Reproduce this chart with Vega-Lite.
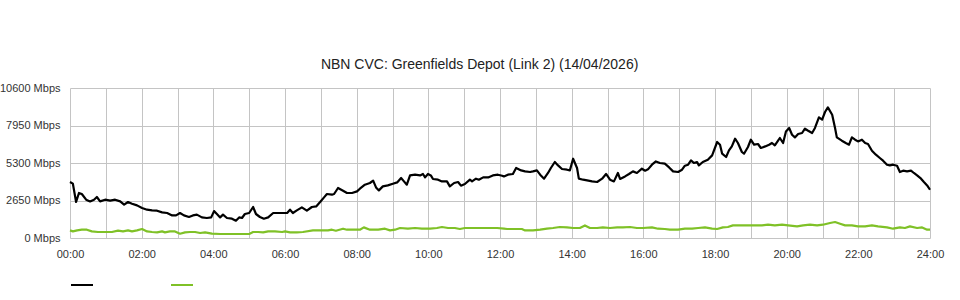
{
  "$schema": "https://vega.github.io/schema/vega-lite/v6.json",
  "width": 860,
  "height": 150,
  "autosize": {"type": "none"},
  "padding": {"left": 70, "top": 88, "right": 30, "bottom": 62},
  "title": {"text": "NBN CVC: Greenfields Depot (Link 2) (14/04/2026)", "fontSize": 14, "fontWeight": "normal", "font": "Liberation Sans", "color": "#222222", "anchor": "middle", "frame": "bounds", "offset": 10, "dx": 8},
  "config": {
    "view": {"stroke": null},
    "font": "Liberation Sans",
    "axis": {"labelFont": "Liberation Sans", "labelFontSize": 11, "labelColor": "#333333", "domain": false, "ticks": false, "tickSize": 0, "gridColor": "#c4c4c4", "gridWidth": 1, "gridOpacity": 1, "title": null}
  },
  "data": {"values": [
    {"s":"Download","h":0.00,"v":3960},{"s":"Download","h":0.08,"v":3840},{"s":"Download","h":0.17,"v":2544},{"s":"Download","h":0.25,"v":3180},{"s":"Download","h":0.33,"v":3110},{"s":"Download","h":0.45,"v":2707},{"s":"Download","h":0.56,"v":2587},{"s":"Download","h":0.67,"v":2707},{"s":"Download","h":0.75,"v":2897},{"s":"Download","h":0.84,"v":2587},{"s":"Download","h":0.98,"v":2707},{"s":"Download","h":1.12,"v":2636},{"s":"Download","h":1.26,"v":2707},{"s":"Download","h":1.40,"v":2587},{"s":"Download","h":1.51,"v":2353},{"s":"Download","h":1.62,"v":2544},{"s":"Download","h":1.73,"v":2424},{"s":"Download","h":1.87,"v":2304},{"s":"Download","h":2.01,"v":2120},{"s":"Download","h":2.15,"v":2000},{"s":"Download","h":2.29,"v":1950},{"s":"Download","h":2.43,"v":1930},{"s":"Download","h":2.57,"v":1810},{"s":"Download","h":2.71,"v":1767},{"s":"Download","h":2.85,"v":1597},{"s":"Download","h":2.96,"v":1597},{"s":"Download","h":3.07,"v":1767},{"s":"Download","h":3.18,"v":1597},{"s":"Download","h":3.32,"v":1484},{"s":"Download","h":3.43,"v":1597},{"s":"Download","h":3.54,"v":1650},{"s":"Download","h":3.68,"v":1456},{"s":"Download","h":3.82,"v":1413},{"s":"Download","h":3.94,"v":1456},{"s":"Download","h":4.02,"v":1900},{"s":"Download","h":4.10,"v":1696},{"s":"Download","h":4.19,"v":1456},{"s":"Download","h":4.27,"v":1650},{"s":"Download","h":4.38,"v":1413},{"s":"Download","h":4.52,"v":1364},{"s":"Download","h":4.63,"v":1222},{"s":"Download","h":4.72,"v":1456},{"s":"Download","h":4.80,"v":1413},{"s":"Download","h":4.88,"v":1696},{"s":"Download","h":5.00,"v":1767},{"s":"Download","h":5.11,"v":2190},{"s":"Download","h":5.19,"v":1696},{"s":"Download","h":5.30,"v":1484},{"s":"Download","h":5.41,"v":1364},{"s":"Download","h":5.53,"v":1456},{"s":"Download","h":5.67,"v":1767},{"s":"Download","h":5.80,"v":1767},{"s":"Download","h":5.94,"v":1767},{"s":"Download","h":6.06,"v":1767},{"s":"Download","h":6.14,"v":2000},{"s":"Download","h":6.22,"v":1767},{"s":"Download","h":6.33,"v":1950},{"s":"Download","h":6.47,"v":2163},{"s":"Download","h":6.61,"v":1930},{"s":"Download","h":6.75,"v":2190},{"s":"Download","h":6.87,"v":2233},{"s":"Download","h":6.98,"v":2544},{"s":"Download","h":7.09,"v":2870},{"s":"Download","h":7.17,"v":3110},{"s":"Download","h":7.31,"v":3060},{"s":"Download","h":7.37,"v":3110},{"s":"Download","h":7.48,"v":3534},{"s":"Download","h":7.62,"v":3343},{"s":"Download","h":7.73,"v":3180},{"s":"Download","h":7.87,"v":3180},{"s":"Download","h":8.01,"v":3293},{"s":"Download","h":8.09,"v":3484},{"s":"Download","h":8.23,"v":3767},{"s":"Download","h":8.37,"v":3887},{"s":"Download","h":8.46,"v":4050},{"s":"Download","h":8.54,"v":3576},{"s":"Download","h":8.62,"v":3364},{"s":"Download","h":8.73,"v":3647},{"s":"Download","h":8.87,"v":3717},{"s":"Download","h":9.01,"v":3837},{"s":"Download","h":9.13,"v":3929},{"s":"Download","h":9.24,"v":4240},{"s":"Download","h":9.32,"v":4000},{"s":"Download","h":9.40,"v":3767},{"s":"Download","h":9.49,"v":4424},{"s":"Download","h":9.63,"v":4473},{"s":"Download","h":9.77,"v":4424},{"s":"Download","h":9.85,"v":4523},{"s":"Download","h":9.91,"v":4283},{"s":"Download","h":9.99,"v":4523},{"s":"Download","h":10.07,"v":4424},{"s":"Download","h":10.13,"v":4170},{"s":"Download","h":10.27,"v":4120},{"s":"Download","h":10.38,"v":4000},{"s":"Download","h":10.52,"v":4000},{"s":"Download","h":10.60,"v":3647},{"s":"Download","h":10.72,"v":3887},{"s":"Download","h":10.83,"v":3958},{"s":"Download","h":10.91,"v":3696},{"s":"Download","h":11.02,"v":3816},{"s":"Download","h":11.16,"v":4120},{"s":"Download","h":11.22,"v":4000},{"s":"Download","h":11.33,"v":4191},{"s":"Download","h":11.41,"v":4120},{"s":"Download","h":11.53,"v":4283},{"s":"Download","h":11.67,"v":4283},{"s":"Download","h":11.80,"v":4424},{"s":"Download","h":11.94,"v":4473},{"s":"Download","h":12.06,"v":4400},{"s":"Download","h":12.11,"v":4353},{"s":"Download","h":12.22,"v":4473},{"s":"Download","h":12.36,"v":4523},{"s":"Download","h":12.45,"v":4947},{"s":"Download","h":12.59,"v":4777},{"s":"Download","h":12.70,"v":4707},{"s":"Download","h":12.84,"v":4664},{"s":"Download","h":12.92,"v":4707},{"s":"Download","h":13.03,"v":4777},{"s":"Download","h":13.12,"v":4473},{"s":"Download","h":13.23,"v":4191},{"s":"Download","h":13.34,"v":4594},{"s":"Download","h":13.42,"v":4947},{"s":"Download","h":13.53,"v":5371},{"s":"Download","h":13.62,"v":5131},{"s":"Download","h":13.73,"v":4876},{"s":"Download","h":13.87,"v":4827},{"s":"Download","h":13.95,"v":4777},{"s":"Download","h":14.04,"v":5604},{"s":"Download","h":14.15,"v":4947},{"s":"Download","h":14.20,"v":4191},{"s":"Download","h":14.32,"v":4120},{"s":"Download","h":14.43,"v":4070},{"s":"Download","h":14.57,"v":4000},{"s":"Download","h":14.71,"v":3958},{"s":"Download","h":14.85,"v":4191},{"s":"Download","h":14.96,"v":4523},{"s":"Download","h":15.07,"v":4120},{"s":"Download","h":15.18,"v":4000},{"s":"Download","h":15.29,"v":4594},{"s":"Download","h":15.35,"v":4170},{"s":"Download","h":15.49,"v":4353},{"s":"Download","h":15.60,"v":4523},{"s":"Download","h":15.71,"v":4707},{"s":"Download","h":15.82,"v":4594},{"s":"Download","h":15.96,"v":4897},{"s":"Download","h":16.05,"v":4756},{"s":"Download","h":16.13,"v":4850},{"s":"Download","h":16.24,"v":5180},{"s":"Download","h":16.35,"v":5413},{"s":"Download","h":16.46,"v":5300},{"s":"Download","h":16.60,"v":5250},{"s":"Download","h":16.72,"v":4989},{"s":"Download","h":16.83,"v":4707},{"s":"Download","h":16.97,"v":4664},{"s":"Download","h":17.08,"v":4827},{"s":"Download","h":17.16,"v":5109},{"s":"Download","h":17.25,"v":5180},{"s":"Download","h":17.33,"v":5484},{"s":"Download","h":17.41,"v":5300},{"s":"Download","h":17.50,"v":5371},{"s":"Download","h":17.55,"v":5131},{"s":"Download","h":17.66,"v":5371},{"s":"Download","h":17.80,"v":5534},{"s":"Download","h":17.92,"v":5837},{"s":"Download","h":18.06,"v":6784},{"s":"Download","h":18.14,"v":6594},{"s":"Download","h":18.20,"v":5957},{"s":"Download","h":18.31,"v":5724},{"s":"Download","h":18.39,"v":6191},{"s":"Download","h":18.47,"v":6473},{"s":"Download","h":18.56,"v":7017},{"s":"Download","h":18.64,"v":6714},{"s":"Download","h":18.75,"v":6078},{"s":"Download","h":18.81,"v":5957},{"s":"Download","h":18.92,"v":6431},{"s":"Download","h":19.00,"v":6947},{"s":"Download","h":19.09,"v":6594},{"s":"Download","h":19.20,"v":6643},{"s":"Download","h":19.28,"v":6360},{"s":"Download","h":19.40,"v":6473},{"s":"Download","h":19.51,"v":6594},{"s":"Download","h":19.59,"v":6714},{"s":"Download","h":19.67,"v":6544},{"s":"Download","h":19.76,"v":6876},{"s":"Download","h":19.81,"v":7067},{"s":"Download","h":19.90,"v":6714},{"s":"Download","h":19.98,"v":7533},{"s":"Download","h":20.07,"v":7774},{"s":"Download","h":20.15,"v":7300},{"s":"Download","h":20.23,"v":7110},{"s":"Download","h":20.32,"v":7350},{"s":"Download","h":20.43,"v":7420},{"s":"Download","h":20.51,"v":7724},{"s":"Download","h":20.60,"v":7583},{"s":"Download","h":20.71,"v":7420},{"s":"Download","h":20.79,"v":7774},{"s":"Download","h":20.90,"v":8523},{"s":"Download","h":20.99,"v":8360},{"s":"Download","h":21.07,"v":8904},{"s":"Download","h":21.15,"v":9230},{"s":"Download","h":21.27,"v":8713},{"s":"Download","h":21.35,"v":7774},{"s":"Download","h":21.40,"v":7110},{"s":"Download","h":21.54,"v":6876},{"s":"Download","h":21.65,"v":6714},{"s":"Download","h":21.74,"v":6594},{"s":"Download","h":21.82,"v":7110},{"s":"Download","h":21.91,"v":6947},{"s":"Download","h":21.99,"v":6827},{"s":"Download","h":22.10,"v":6947},{"s":"Download","h":22.19,"v":6714},{"s":"Download","h":22.27,"v":6643},{"s":"Download","h":22.38,"v":6170},{"s":"Download","h":22.49,"v":5887},{"s":"Download","h":22.60,"v":5654},{"s":"Download","h":22.69,"v":5463},{"s":"Download","h":22.80,"v":5180},{"s":"Download","h":22.88,"v":5131},{"s":"Download","h":22.97,"v":5180},{"s":"Download","h":23.08,"v":5109},{"s":"Download","h":23.16,"v":4664},{"s":"Download","h":23.25,"v":4756},{"s":"Download","h":23.36,"v":4707},{"s":"Download","h":23.47,"v":4756},{"s":"Download","h":23.55,"v":4594},{"s":"Download","h":23.64,"v":4424},{"s":"Download","h":23.75,"v":4191},{"s":"Download","h":23.83,"v":3958},{"s":"Download","h":23.92,"v":3717},{"s":"Download","h":24.00,"v":3410},
    {"s":"Upload","h":0.00,"v":537},{"s":"Upload","h":0.08,"v":466},{"s":"Upload","h":0.20,"v":537},{"s":"Upload","h":0.33,"v":587},{"s":"Upload","h":0.47,"v":587},{"s":"Upload","h":0.61,"v":466},{"s":"Upload","h":0.78,"v":424},{"s":"Upload","h":0.98,"v":424},{"s":"Upload","h":1.17,"v":424},{"s":"Upload","h":1.34,"v":516},{"s":"Upload","h":1.48,"v":466},{"s":"Upload","h":1.62,"v":537},{"s":"Upload","h":1.73,"v":466},{"s":"Upload","h":1.87,"v":537},{"s":"Upload","h":2.01,"v":636},{"s":"Upload","h":2.15,"v":466},{"s":"Upload","h":2.29,"v":424},{"s":"Upload","h":2.43,"v":396},{"s":"Upload","h":2.57,"v":466},{"s":"Upload","h":2.65,"v":396},{"s":"Upload","h":2.79,"v":466},{"s":"Upload","h":2.93,"v":466},{"s":"Upload","h":3.07,"v":304},{"s":"Upload","h":3.21,"v":396},{"s":"Upload","h":3.35,"v":424},{"s":"Upload","h":3.49,"v":424},{"s":"Upload","h":3.63,"v":353},{"s":"Upload","h":3.77,"v":396},{"s":"Upload","h":3.96,"v":304},{"s":"Upload","h":4.19,"v":283},{"s":"Upload","h":4.47,"v":283},{"s":"Upload","h":4.74,"v":283},{"s":"Upload","h":5.00,"v":283},{"s":"Upload","h":5.11,"v":424},{"s":"Upload","h":5.25,"v":424},{"s":"Upload","h":5.39,"v":396},{"s":"Upload","h":5.53,"v":466},{"s":"Upload","h":5.72,"v":466},{"s":"Upload","h":5.92,"v":424},{"s":"Upload","h":6.00,"v":466},{"s":"Upload","h":6.14,"v":396},{"s":"Upload","h":6.33,"v":396},{"s":"Upload","h":6.50,"v":424},{"s":"Upload","h":6.78,"v":537},{"s":"Upload","h":7.03,"v":537},{"s":"Upload","h":7.20,"v":537},{"s":"Upload","h":7.31,"v":587},{"s":"Upload","h":7.42,"v":516},{"s":"Upload","h":7.62,"v":657},{"s":"Upload","h":7.73,"v":587},{"s":"Upload","h":7.90,"v":587},{"s":"Upload","h":8.09,"v":587},{"s":"Upload","h":8.20,"v":749},{"s":"Upload","h":8.37,"v":587},{"s":"Upload","h":8.60,"v":587},{"s":"Upload","h":8.79,"v":657},{"s":"Upload","h":8.93,"v":537},{"s":"Upload","h":9.07,"v":587},{"s":"Upload","h":9.21,"v":707},{"s":"Upload","h":9.43,"v":657},{"s":"Upload","h":9.63,"v":707},{"s":"Upload","h":9.82,"v":657},{"s":"Upload","h":10.05,"v":657},{"s":"Upload","h":10.24,"v":707},{"s":"Upload","h":10.38,"v":777},{"s":"Upload","h":10.55,"v":707},{"s":"Upload","h":10.74,"v":707},{"s":"Upload","h":10.88,"v":636},{"s":"Upload","h":11.02,"v":707},{"s":"Upload","h":11.22,"v":707},{"s":"Upload","h":11.44,"v":707},{"s":"Upload","h":11.67,"v":707},{"s":"Upload","h":11.92,"v":707},{"s":"Upload","h":12.11,"v":657},{"s":"Upload","h":12.20,"v":636},{"s":"Upload","h":12.36,"v":636},{"s":"Upload","h":12.61,"v":636},{"s":"Upload","h":12.70,"v":537},{"s":"Upload","h":12.92,"v":537},{"s":"Upload","h":13.12,"v":587},{"s":"Upload","h":13.31,"v":657},{"s":"Upload","h":13.48,"v":707},{"s":"Upload","h":13.67,"v":777},{"s":"Upload","h":13.87,"v":749},{"s":"Upload","h":14.04,"v":707},{"s":"Upload","h":14.23,"v":707},{"s":"Upload","h":14.37,"v":890},{"s":"Upload","h":14.51,"v":707},{"s":"Upload","h":14.71,"v":707},{"s":"Upload","h":14.87,"v":749},{"s":"Upload","h":15.07,"v":707},{"s":"Upload","h":15.27,"v":749},{"s":"Upload","h":15.43,"v":749},{"s":"Upload","h":15.63,"v":777},{"s":"Upload","h":15.82,"v":707},{"s":"Upload","h":15.99,"v":707},{"s":"Upload","h":16.24,"v":749},{"s":"Upload","h":16.41,"v":657},{"s":"Upload","h":16.60,"v":636},{"s":"Upload","h":16.74,"v":587},{"s":"Upload","h":16.97,"v":587},{"s":"Upload","h":17.16,"v":657},{"s":"Upload","h":17.36,"v":657},{"s":"Upload","h":17.53,"v":707},{"s":"Upload","h":17.72,"v":749},{"s":"Upload","h":17.92,"v":657},{"s":"Upload","h":18.06,"v":636},{"s":"Upload","h":18.22,"v":749},{"s":"Upload","h":18.36,"v":777},{"s":"Upload","h":18.50,"v":890},{"s":"Upload","h":18.75,"v":890},{"s":"Upload","h":19.03,"v":890},{"s":"Upload","h":19.31,"v":890},{"s":"Upload","h":19.48,"v":940},{"s":"Upload","h":19.67,"v":890},{"s":"Upload","h":19.87,"v":940},{"s":"Upload","h":20.04,"v":890},{"s":"Upload","h":20.29,"v":820},{"s":"Upload","h":20.46,"v":890},{"s":"Upload","h":20.65,"v":940},{"s":"Upload","h":20.85,"v":890},{"s":"Upload","h":21.01,"v":940},{"s":"Upload","h":21.21,"v":1060},{"s":"Upload","h":21.35,"v":1130},{"s":"Upload","h":21.49,"v":1010},{"s":"Upload","h":21.63,"v":890},{"s":"Upload","h":21.82,"v":890},{"s":"Upload","h":21.99,"v":820},{"s":"Upload","h":22.19,"v":820},{"s":"Upload","h":22.38,"v":890},{"s":"Upload","h":22.55,"v":820},{"s":"Upload","h":22.80,"v":749},{"s":"Upload","h":22.97,"v":657},{"s":"Upload","h":23.16,"v":749},{"s":"Upload","h":23.30,"v":707},{"s":"Upload","h":23.44,"v":820},{"s":"Upload","h":23.64,"v":707},{"s":"Upload","h":23.78,"v":749},{"s":"Upload","h":23.92,"v":587},{"s":"Upload","h":24.00,"v":587}
  ]},
  "mark": {"type": "line", "strokeWidth": 2.2, "strokeJoin": "round"},
  "encoding": {
    "x": {"field": "h", "type": "quantitative", "scale": {"domain": [0, 24], "nice": false, "zero": false},
      "axis": {"values": [0,1,2,3,4,5,6,7,8,9,10,11,12,13,14,15,16,17,18,19,20,21,22,23,24], "labelExpr": "datum.value % 2 == 0 ? ((datum.value < 10 ? '0' : '') + datum.value + ':00') : ''", "labelPadding": 10, "labelFlush": false, "labelOverlap": false}},
    "y": {"field": "v", "type": "quantitative", "scale": {"domain": [0, 10600], "nice": false},
      "axis": {"values": [0, 2650, 5300, 7950, 10600], "labelExpr": "datum.value + ' Mbps'", "labelPadding": 10}},
    "color": {"field": "s", "type": "nominal", "scale": {"domain": ["Download", "Upload"], "range": ["#000000", "#7fc127"]},
      "legend": {"title": null, "orient": "none", "legendX": 0, "legendY": 185, "direction": "horizontal", "symbolType": "stroke", "symbolSize": 484, "symbolStrokeWidth": 2, "labelExpr": "''", "columnPadding": 69, "labelOffset": 4}}
  }
}
